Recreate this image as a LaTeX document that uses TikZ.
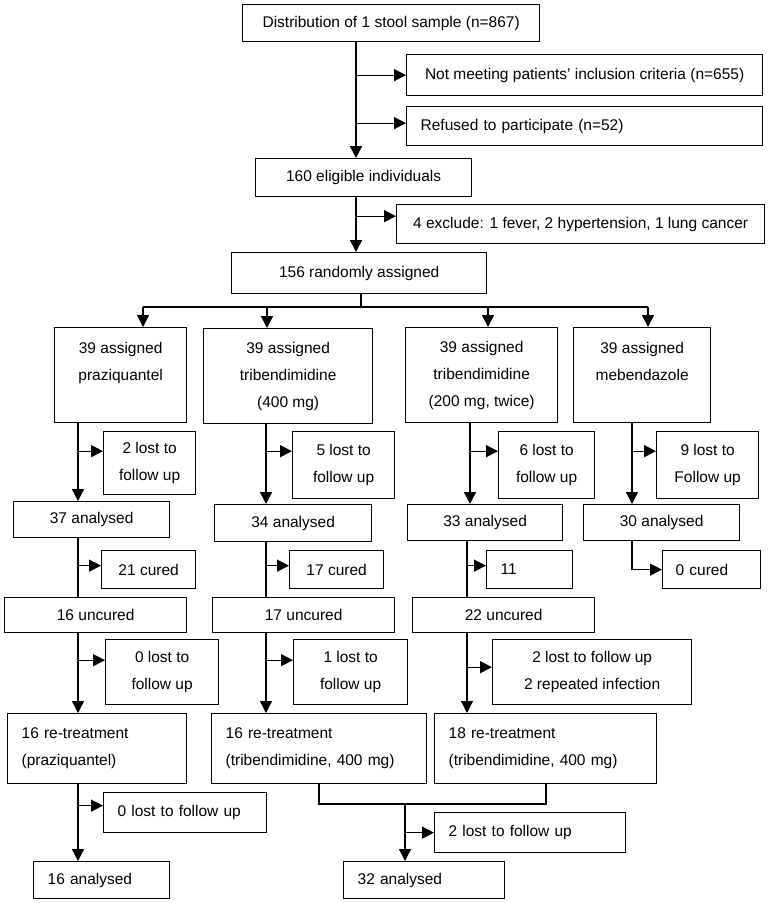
\documentclass[tikz,border=0pt]{standalone}
\usepackage{fontspec}
\setmainfont{Liberation Sans}
\usetikzlibrary{arrows.meta}

\tikzset{
  box/.style={draw, line width=1.3pt, inner sep=0pt, anchor=north west, align=center,
    font={\fontsize{15.5pt}{27pt}\selectfont}},
  lbox/.style={box, align=left, text width=#1},
  ln/.style={line width=1.3pt},
  arr/.style={line width=1.3pt, -{Triangle[length=12pt,width=12pt]}}
}

\begin{document}
\begin{tikzpicture}[x=1pt,y=-1pt]
\useasboundingbox (0,0) rectangle (768,903);

% screening
\node[box, minimum width=297pt, minimum height=37pt] (dist) at (242,4) {Distribution of 1 stool sample (n=867)};
\node[box, minimum width=356pt, minimum height=41pt] (notmeet) at (406,54) {Not meeting patients' inclusion criteria (n=655)};
\node[lbox=328pt, minimum width=356pt, minimum height=39pt] (refused) at (406,106) {Refused to participate (n=52)};
\node[box, minimum width=216pt, minimum height=38pt] (elig) at (255,158) {160 eligible individuals};
\node[box, minimum width=368pt, minimum height=39pt] (excl) at (396,204) {4 exclude: 1 fever, 2 hypertension, 1 lung cancer};
\node[box, minimum width=255pt, minimum height=41pt] (rand) at (231,252) {156 randomly assigned};

% treatment arms
\node[box, minimum width=132pt, minimum height=95pt] (praz) at (54,327) {39 assigned\\praziquantel\\\mbox{}};
\node[box, minimum width=169pt, minimum height=95pt] (tri4) at (203,328) {39 assigned\\tribendimidine\\(400 mg)};
\node[box, minimum width=152pt, minimum height=95pt] (tri2) at (405,327) {39 assigned\\tribendimidine\\(200 mg, twice)};
\node[box, minimum width=137pt, minimum height=95pt] (meb) at (573,327) {39 assigned\\mebendazole\\\mbox{}};

\node[box, minimum width=92pt, minimum height=63pt] (lostA) at (103,431) {2 lost to\\follow up};
\node[box, minimum width=102pt, minimum height=67pt] (lostB) at (292,431) {5 lost to\\follow up};
\node[box, minimum width=96pt, minimum height=67pt] (lostC) at (498,431) {6 lost to\\follow up};
\node[box, minimum width=102pt, minimum height=67pt] (lostD) at (656,431) {9 lost to\\Follow up};

\node[box, minimum width=156pt, minimum height=36pt] (anA) at (13,501) {37 analysed};
\node[box, minimum width=157pt, minimum height=37pt] (anB) at (214,504) {34 analysed};
\node[box, minimum width=155pt, minimum height=36pt] (anC) at (407,504) {33 analysed};
\node[box, minimum width=156pt, minimum height=36pt] (anD) at (583,504) {30 analysed};

\node[box, minimum width=94pt, minimum height=38pt] (curA) at (101,550) {21 cured};
\node[box, minimum width=94pt, minimum height=38pt] (curB) at (289,550) {17 cured};
\node[lbox=58pt, minimum width=86pt, minimum height=38pt] (curC) at (486,550) {11};
\node[lbox=72pt, minimum width=98pt, minimum height=38pt] (curD) at (662,550) {0 cured};

\node[box, minimum width=182pt, minimum height=35pt] (uncA) at (4,597) {16 uncured};
\node[box, minimum width=182pt, minimum height=35pt] (uncB) at (212,597) {17 uncured};
\node[box, minimum width=182pt, minimum height=35pt] (uncC) at (412,597) {22 uncured};

\node[box, minimum width=113pt, minimum height=65pt] (lostA2) at (105,639) {0 lost to\\follow up};
\node[box, minimum width=114pt, minimum height=65pt] (lostB2) at (293,639) {1 lost to\\follow up};
\node[box, minimum width=199pt, minimum height=65pt] (lostC2) at (492,639) {2 lost to follow up\\2 repeated infection};

% re-treatment
\node[lbox=151pt, minimum width=179pt, minimum height=70pt] (retA) at (7,713) {16 re-treatment\\(praziquantel)};
\node[lbox=187pt, minimum width=215pt, minimum height=70pt] (retB) at (211,713) {16 re-treatment\\(tribendimidine, 400 mg)};
\node[lbox=194pt, minimum width=222pt, minimum height=70pt] (retC) at (434,713) {18 re-treatment\\(tribendimidine, 400 mg)};

\node[lbox=135pt, minimum width=163pt, minimum height=40pt] (lostA3) at (103,792) {0 lost to follow up};
\node[lbox=108pt, minimum width=136pt, minimum height=37pt] (finA) at (33,861) {16 analysed};
\node[lbox=163pt, minimum width=191pt, minimum height=40pt] (lostF) at (434,812) {2 lost to follow up};
\node[lbox=133pt, minimum width=161pt, minimum height=37pt] (finF) at (343,861) {32 analysed};

% spines
\coordinate (sx) at (356,0);
\coordinate (rx) at (361,0);
\coordinate (dA) at (143,307);
\coordinate (dB) at (267,307);
\coordinate (dC) at (488,307);
\coordinate (dD) at (648,307);
\coordinate (xA) at (78,0);
\coordinate (xB) at (266,0);
\coordinate (xC) at (470,0);
\coordinate (xCC) at (467,0);
\coordinate (xD) at (632,0);
\coordinate (mg) at (0,804);
\coordinate (mB) at (319,0);
\coordinate (mC) at (546,0);
\coordinate (xF) at (405,0);

\draw[arr] (dist.south -| sx) -- (elig.north -| sx);
\draw[arr] (notmeet.west -| sx) -- (notmeet.west);
\draw[arr] ([yshift=3pt]refused.west -| sx) -- ([yshift=3pt]refused.west);
\draw[arr] (elig.south -| sx) -- (rand.north -| sx);
\draw[arr] ([yshift=8pt]excl.west -| sx) -- ([yshift=8pt]excl.west);

\draw[ln] (rand.south -| rx) -- (dA -| rx);
\draw[ln] (dA) -- (dD);
\draw[arr] (dA) -- (praz.north -| dA);
\draw[arr] (dB) -- (tri4.north -| dB);
\draw[arr] (dC) -- (tri2.north -| dC);
\draw[arr] (dD) -- (meb.north -| dD);

\draw[arr] (praz.south -| xA) -- (anA.north -| xA);
\draw[arr] (tri4.south -| xB) -- (anB.north -| xB);
\draw[arr] (tri2.south -| xC) -- (anC.north -| xC);
\draw[arr] (meb.south -| xD) -- (anD.north -| xD);
\draw[arr] ([yshift=12pt]lostA.west -| xA) -- ([yshift=12pt]lostA.west);
\draw[arr] ([yshift=14pt]lostB.west -| xB) -- ([yshift=14pt]lostB.west);
\draw[arr] ([yshift=14pt]lostC.west -| xC) -- ([yshift=14pt]lostC.west);
\draw[arr] ([yshift=14pt]lostD.west -| xD) -- ([yshift=14pt]lostD.west);

\draw[ln] (anA.south -| xA) -- (uncA.north -| xA);
\draw[ln] (anB.south -| xB) -- (uncB.north -| xB);
\draw[ln] (anC.south -| xCC) -- (uncC.north -| xCC);
\draw[arr] ([yshift=4pt]curA.west -| xA) -- ([yshift=4pt]curA.west);
\draw[arr] ([yshift=4pt]curB.west -| xB) -- ([yshift=4pt]curB.west);
\draw[arr] ([yshift=4pt]curC.west -| xCC) -- ([yshift=4pt]curC.west);
\draw[arr] (anD.south -| xD) |- (curD.west);

\draw[arr] (uncA.south -| xA) -- (retA.north -| xA);
\draw[arr] (uncB.south -| xB) -- (retB.north -| xB);
\draw[arr] (uncC.south -| xCC) -- (retC.north -| xCC);
\draw[arr] ([yshift=12pt]lostA2.west -| xA) -- ([yshift=12pt]lostA2.west);
\draw[arr] ([yshift=12pt]lostB2.west -| xB) -- ([yshift=12pt]lostB2.west);
\draw[arr] ([yshift=5pt]lostC2.west -| xCC) -- ([yshift=5pt]lostC2.west);

\draw[arr] (retA.south -| xA) -- (finA.north -| xA);
\draw[arr] ([yshift=7pt]lostA3.west -| xA) -- ([yshift=7pt]lostA3.west);
\draw[ln] (retB.south -| mB) |- (mg -| mC) -- (retC.south -| mC);
\draw[arr] (mg -| xF) -- (finF.north -| xF);
\draw[arr] (lostF.west -| xF) -- (lostF.west);
\end{tikzpicture}
\end{document}
